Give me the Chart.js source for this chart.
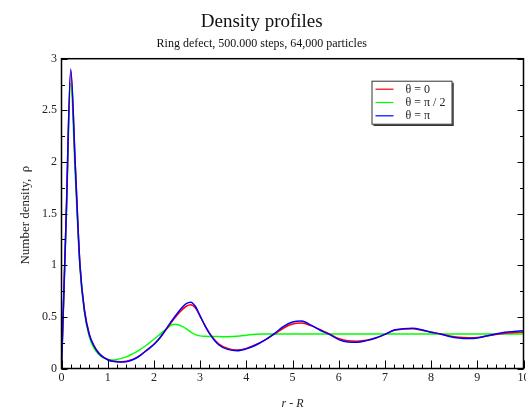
<!DOCTYPE html>
<html>
<head>
<meta charset="utf-8">
<script src="https://cdn.jsdelivr.net/npm/chart.js@4/dist/chart.umd.min.js"></script>
<style>
  body { margin: 0; background: #fff; }
  canvas { display: block; }
</style>
</head>
<body>
<canvas id="density-chart" width="526" height="411"></canvas>
<script>
// r - R positions of the samples
const rValues = [0, 0.1, 0.2, 0.3, 0.4, 0.5, 0.6, 0.7, 0.8, 0.9,
                 1.0, 1.1, 1.2, 1.3, 1.4, 1.5, 1.6, 1.7, 1.8, 1.9,
                 2.0, 2.1, 2.2, 2.3, 2.4, 2.5, 2.6, 2.7, 2.8, 2.9,
                 3.0, 3.1, 3.2, 3.4, 3.6, 3.8, 4.0, 4.2, 4.4, 4.6,
                 4.8, 5.0, 5.2, 5.4, 5.6, 5.8, 6.0, 6.2, 6.4, 6.6,
                 6.8, 7.0, 7.2, 7.4, 7.6, 7.8, 8.0, 8.2, 8.4, 8.6,
                 8.8, 9.0, 9.2, 9.4, 9.6, 9.8, 10.0]

const theta0 = [0, 1.45, 2.88, 1.95, 1.0, 0.56, 0.335, 0.225, 0.155, 0.112,
                0.087, 0.072, 0.067, 0.066, 0.07, 0.082, 0.1, 0.128, 0.162, 0.197,
                0.235, 0.28, 0.338, 0.4, 0.46, 0.515, 0.565, 0.603, 0.618, 0.585,
                0.505, 0.42, 0.345, 0.24, 0.195, 0.18, 0.195, 0.23, 0.275, 0.33,
                0.39, 0.43, 0.44, 0.415, 0.375, 0.335, 0.29, 0.268, 0.265, 0.273,
                0.295, 0.33, 0.37, 0.382, 0.385, 0.37, 0.352, 0.335, 0.315, 0.302,
                0.298, 0.3, 0.315, 0.33, 0.342, 0.348, 0.352]

const thetaHalfPi = [0, 1.4, 2.76, 1.85, 0.97, 0.53, 0.31, 0.2, 0.14, 0.105,
                     0.088, 0.083, 0.088, 0.098, 0.113, 0.133, 0.157, 0.183, 0.213, 0.247,
                     0.283, 0.32, 0.358, 0.393, 0.427, 0.425, 0.41, 0.385, 0.352, 0.328,
                     0.316, 0.312, 0.31, 0.309, 0.308, 0.312, 0.322, 0.332, 0.333, 0.333,
                     0.334, 0.334, 0.335, 0.334, 0.334, 0.333, 0.333, 0.334, 0.333, 0.334,
                     0.335, 0.335, 0.334, 0.334, 0.335, 0.335, 0.334, 0.333, 0.334, 0.334,
                     0.334, 0.335, 0.335, 0.334, 0.335, 0.335, 0.335]

const thetaPi = [0, 1.45, 2.9, 1.95, 1.0, 0.55, 0.33, 0.22, 0.15, 0.11,
                 0.085, 0.07, 0.064, 0.062, 0.066, 0.078, 0.097, 0.125, 0.16, 0.195,
                 0.232, 0.28, 0.34, 0.405, 0.47, 0.53, 0.585, 0.628, 0.642, 0.6,
                 0.51, 0.42, 0.34, 0.23, 0.185, 0.172, 0.19, 0.225, 0.275, 0.335,
                 0.405, 0.45, 0.46, 0.42, 0.37, 0.33, 0.28, 0.257, 0.255, 0.27,
                 0.295, 0.33, 0.372, 0.385, 0.39, 0.375, 0.35, 0.335, 0.31, 0.295,
                 0.29, 0.295, 0.315, 0.335, 0.35, 0.358, 0.366]

const seriesLabels = ['θ = 0', 'θ = π / 2', 'θ = π']
const seriesColors = ['#ff0000', '#00ff00', '#0000ff']
const seriesOrder = [1, 2, 0]   // blue on top
const seriesValues = [theta0, thetaHalfPi, thetaPi]

const serif = "'Liberation Serif', 'Times New Roman', serif"
const ink = '#222'

/*
** Frame, inward ticks on the left/right/bottom sides and the boxed legend
*/
const framePlugin = {
    id: 'frame',
    afterDraw(chart) {
        const { ctx, chartArea: a, scales: { x, y } } = chart
        ctx.save()
        ctx.strokeStyle = '#000'
        ctx.lineWidth = 1

        // x ticks every 0.2, major every 1
        for (let i = 0; i <= 50; i++) {
            const px = Math.round(x.getPixelForValue(i * 0.2)) + 0.5
            const len = i % 5 === 0 ? 8 : 4
            ctx.beginPath()
            ctx.moveTo(px, a.bottom)
            ctx.lineTo(px, a.bottom - len)
            ctx.stroke()
        }
        // y ticks every 0.25, major every 0.5
        for (let i = 0; i <= 12; i++) {
            const py = Math.round(y.getPixelForValue(i * 0.25)) + 0.5
            const len = i % 2 === 0 ? 6 : 3.5
            ctx.beginPath()
            ctx.moveTo(a.left, py)
            ctx.lineTo(a.left + len, py)
            ctx.moveTo(a.right, py)
            ctx.lineTo(a.right - len, py)
            ctx.stroke()
        }

        ctx.lineWidth = 1.5
        ctx.strokeRect(a.left, a.top, a.right - a.left, a.bottom - a.top)

        // legend box
        const bx = a.left + 310, by = a.top + 22, bw = 80, bh = 43
        ctx.fillStyle = '#fff'
        ctx.fillRect(bx, by, bw, bh)
        ctx.lineWidth = 1
        ctx.strokeStyle = '#333'
        ctx.strokeRect(bx + 0.5, by + 0.5, bw, bh)
        ctx.lineWidth = 1.5
        ctx.beginPath()
        ctx.moveTo(bx + bw + 1.5, by + 2)
        ctx.lineTo(bx + bw + 1.5, by + bh + 1.5)
        ctx.lineTo(bx + 2, by + bh + 1.5)
        ctx.stroke()

        ctx.font = '12px ' + serif
        ctx.textBaseline = 'middle'
        ctx.textAlign = 'left'
        chart.data.datasets.forEach((ds, i) => {
            const ly = by + 8.5 + i * 13.3
            ctx.strokeStyle = ds.borderColor
            ctx.lineWidth = 1.2
            ctx.beginPath()
            ctx.moveTo(bx + 4, ly)
            ctx.lineTo(bx + 22, ly)
            ctx.stroke()
            ctx.fillStyle = ink
            ctx.fillText(ds.label, bx + 34, ly + 0.5)
        })
        ctx.restore()
    }
}

new Chart(document.querySelector('#density-chart').getContext('2d'), {
    type: 'line',
    data: {
        datasets: seriesValues.map((vals, i) => ({
            label: seriesLabels[i],
            data: vals.map((v, j) => ({ x: rValues[j], y: v })),
            borderColor: seriesColors[i],
            backgroundColor: seriesColors[i],
            borderWidth: 1.5,
            pointRadius: 0,
            cubicInterpolationMode: 'monotone',
            order: seriesOrder[i]
        }))
    },
    options: {
        responsive: false,
        animation: false,
        layout: { padding: { left: 0, right: 2.5, top: 0, bottom: 0 } },
        plugins: {
            legend: { display: false },
            tooltip: { enabled: false },
            title: {
                display: true,
                text: 'Density profiles',
                color: '#111',
                font: { family: serif, size: 19, weight: 'normal' },
                padding: { top: 11, bottom: 0 }
            },
            subtitle: {
                display: true,
                text: 'Ring defect, 500.000 steps, 64,000 particles',
                color: '#111',
                font: { family: serif, size: 12 },
                padding: { top: 3, bottom: 7.5 }
            }
        },
        scales: {
            x: {
                type: 'linear',
                min: 0,
                max: 10,
                grid: { display: false, drawTicks: false },
                border: { display: false },
                ticks: { stepSize: 1, padding: 2, maxRotation: 0, color: ink,
                         font: { family: serif, size: 12 } },
                title: { display: true, text: 'r - R', color: ink, padding: { top: 0, bottom: 0 },
                         font: { family: serif, size: 12, style: 'italic' } },
                afterFit(scale) {
                    scale.height = 42.5
                    scale.paddingLeft = 0
                    scale.paddingRight = 0
                }
            },
            y: {
                min: 0,
                max: 3,
                grid: { display: false, drawTicks: false },
                border: { display: false },
                ticks: { stepSize: 0.5, padding: 4.5, color: ink,
                         font: { family: serif, size: 12 },
                         callback: v => String(v) },
                title: { display: true, text: 'Number density,  ρ ', color: ink,
                         padding: { top: 18, bottom: 0 },
                         font: { family: serif, size: 13 } },
                afterFit(scale) {
                    scale.width = 61.5
                    scale.paddingTop = 0
                    scale.paddingBottom = 0
                }
            }
        }
    },
    plugins: [framePlugin]
});
</script>
</body>
</html>
